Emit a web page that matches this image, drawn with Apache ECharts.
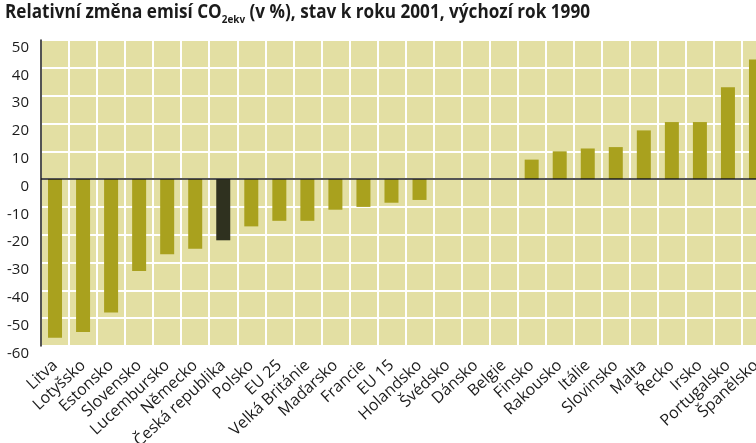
<!DOCTYPE html>
<html>
<head>
<meta charset="utf-8">
<script src="https://cdn.jsdelivr.net/npm/echarts@6/dist/echarts.min.js"></script>
<style>
html,body{margin:0;padding:0;background:#ffffff;}
#chart{width:756px;height:443px;}
</style>
</head>
<body>
<div id="chart"></div>
<script>
const categories = ['Litva','Lotyšsko','Estonsko','Slovensko','Lucembursko','Německo','Česká republika','Polsko','EU 25','Velká Británie','Maďarsko','Francie','EU 15','Holandsko','Švédsko','Dánsko','Belgie','Finsko','Rakousko','Itálie','Slovinsko','Malta','Řecko','Irsko','Portugalsko','Španělsko'];
const values = [-57,-55,-48,-33,-27,-25,-22,-17,-15,-15,-11,-10,-8.5,-7.5,0,0,0,7,10,11,11.5,17.5,20.5,20.5,33,43];
const highlighted = 'Česká republika';
const yMin = -60, yMax = 50, yStep = 10;
const titleMain = 'Relativní změna emisí CO';
const titleSub = '2ekv';
const titleRest = ' (v %), stav k roku 2001, výchozí rok 1990';

const barColor = '#a9a11e';
const hiColor = '#2f311f';
const textColor = '#1b1b1b';
const titleFont = "'Open Sans'";

// fit title to the reference width
const cv = document.createElement('canvas').getContext('2d');
function mw(t, size){ cv.font = '700 ' + size + 'px ' + titleFont; return cv.measureText(t).width; }
const rawW = mw(titleMain,19) + mw(titleSub,11) + mw(titleRest,19);
const titleScale = 585 / rawW;

const chart = echarts.init(document.getElementById('chart'), null, {renderer:'canvas'});
const data = values.map((v,i)=>({
  value: v,
  itemStyle: {color: categories[i] === highlighted ? hiColor : barColor}
}));

chart.setOption({
  animation:false,
  backgroundColor:'#ffffff',
  graphic:[{
    type:'text', x:5, y:1, scaleX:titleScale, scaleY:1,
    style:{
      text:'{a|' + titleMain + '}{s|' + titleSub + '}{a|' + titleRest + '}',
      rich:{
        a:{fontFamily:titleFont,fontWeight:700,fontSize:19,fill:textColor,lineHeight:24},
        s:{fontFamily:titleFont,fontWeight:700,fontSize:11,fill:textColor,lineHeight:12,verticalAlign:'bottom'}
      }
    }
  }],
  grid:{left:41, right:-14, top:40, bottom:97, show:true, backgroundColor:'#e3dfa3', borderWidth:0, containLabel:false, outerBoundsMode:'none'},
  xAxis:{
    type:'category',
    data:categories,
    boundaryGap:true,
    axisLine:{show:false, onZero:false},
    axisTick:{show:false},
    splitLine:{show:true, lineStyle:{color:'#ffffff', width:2}},
    axisLabel:{
      interval:0, rotate:43, margin:17,
      fontFamily:"'Open Sans','Noto Sans',sans-serif", fontSize:16, color:textColor
    }
  },
  yAxis:{
    type:'value',
    min:yMin, max:yMax, interval:yStep,
    axisLine:{show:true, lineStyle:{color:textColor, width:1.5}},
    axisTick:{show:false},
    splitLine:{show:true, lineStyle:{color:'#ffffff', width:2}},
    axisLabel:{
      margin:12, verticalAlign:'top', lineHeight:15,
      fontFamily:"'Open Sans','Noto Sans',sans-serif", fontSize:15, color:textColor
    }
  },
  series:[{
    type:'bar',
    data:data,
    barWidth:14,
    markLine:{
      silent:true, symbol:'none',
      label:{show:false},
      lineStyle:{color:textColor, width:1.5, type:'solid'},
      data:[{yAxis:0}]
    }
  }]
});
</script>
</body>
</html>
